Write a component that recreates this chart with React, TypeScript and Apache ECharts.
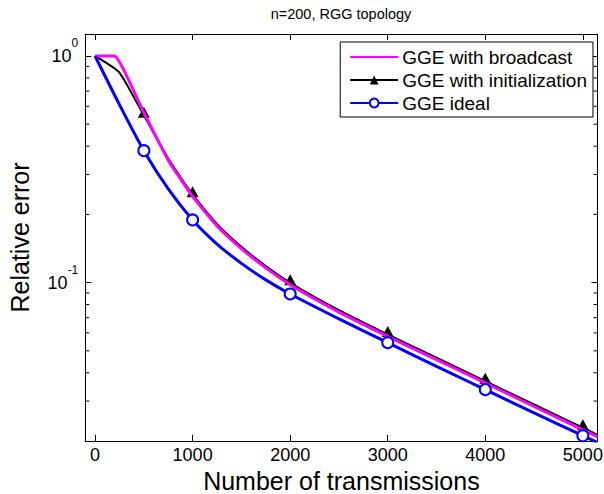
import React, { useEffect, useRef } from 'react';
import * as echarts from 'echarts';

const titleText = 'n=200, RGG topology';
const xName = 'Number of transmissions';
const yName = 'Relative error';
const seriesNames = ['GGE with broadcast', 'GGE with initialization', 'GGE ideal'];

const xBroadcast = [0, 190, 200, 500, 750, 1000, 1250, 1500, 1750, 2000, 2500, 3000, 3500, 4000, 4500, 5000, 5150];
const yBroadcast = [1, 1, 1, 0.562, 0.347, 0.2399, 0.1778, 0.1413, 0.1161, 0.0979, 0.0741, 0.0579, 0.0457, 0.0361, 0.0284, 0.0224, 0.0209];

const xInit = [0, 250, 500, 750, 1000, 1250, 1500, 1750, 2000, 2500, 3000, 3500, 4000, 4500, 5000, 5150];
const yInit = [1, 0.845, 0.547, 0.353, 0.2443, 0.1811, 0.1439, 0.1183, 0.0998, 0.0755, 0.059, 0.0466, 0.0367, 0.029, 0.0229, 0.0213];

const xIdeal = [0, 250, 500, 750, 1000, 1250, 1500, 1750, 2000, 2500, 3000, 3500, 4000, 4500, 5000, 5150];
const yIdeal = [1, 0.61, 0.382, 0.259, 0.189, 0.148, 0.1216, 0.1028, 0.0891, 0.0692, 0.0543, 0.0427, 0.0337, 0.0266, 0.0211, 0.0197];

const markerX = [500, 1000, 2000, 3000, 4000, 5000];
const yMinorTicks = [0.03, 0.04, 0.05, 0.06, 0.07, 0.08, 0.09, 0.2, 0.3, 0.4, 0.5, 0.6, 0.7, 0.8, 0.9];

const X_MIN = -100;
const X_MAX = 5150;
const Y_MIN = 0.02;
const Y_MAX = 1.25;

const FONT = 'Liberation Sans, Arial, Helvetica, sans-serif';

export default function App() {
  const ref = useRef<HTMLDivElement>(null);
  useEffect(() => {
    if (!ref.current) return;
    const chart = echarts.init(ref.current, undefined, { renderer: 'svg' });
    const mk = (xs: number[], ys: number[], sym: string) =>
      xs.map((x, i) => ({ value: [x, ys[i]], symbol: markerX.includes(x) ? sym : 'none' }));

    const xAxisCommon = {
      type: 'value',
      min: X_MIN,
      max: X_MAX,
      axisLine: { show: true, onZero: false, lineStyle: { color: '#000', width: 1 } },
      axisTick: { show: true, inside: true, length: 6, lineStyle: { color: '#000', width: 1 } },
      splitLine: { show: false },
    };
    const yAxisCommon = {
      type: 'log',
      logBase: 10,
      min: Y_MIN,
      max: Y_MAX,
      axisLine: { show: true, onZero: false, lineStyle: { color: '#000', width: 1 } },
      axisTick: { show: true, inside: true, length: 6, lineStyle: { color: '#000', width: 1 } },
      splitLine: { show: false },
    };

    chart.setOption({
      animation: false,
      backgroundColor: '#fff',
      textStyle: { fontFamily: FONT },
      graphic: [
        {
          type: 'text',
          x: 341,
          y: 14,
          style: {
            text: titleText,
            fontFamily: FONT,
            fontSize: 14.5,
            fill: '#000',
            textAlign: 'center',
            textVerticalAlign: 'middle',
          },
        },
      ],
      grid: { left: 85.3, right: 6.5, top: 34, bottom: 53, containLabel: false, outerBoundsMode: 'none' },
      legend: {
        data: [
          {
            name: seriesNames[0],
            itemStyle: { color: 'rgba(0,0,0,0)', borderColor: 'rgba(0,0,0,0)', borderWidth: 0, opacity: 0 },
          },
          { name: seriesNames[1] },
          { name: seriesNames[2] },
        ],
        orient: 'vertical',
        right: 11,
        top: 42,
        padding: [5, 6, 4, 9],
        itemGap: 3,
        itemWidth: 48,
        itemHeight: 11,
        backgroundColor: '#fff',
        borderColor: '#000',
        borderWidth: 1,
        borderRadius: 0,
        align: 'left',
        textStyle: { fontFamily: FONT, fontSize: 19, color: '#000', lineHeight: 20, padding: [0, 0, 0, -1] },
      },
      xAxis: [
        {
          ...xAxisCommon,
          position: 'bottom',
          name: xName,
          nameLocation: 'middle',
          nameGap: 25,
          nameTextStyle: { fontFamily: FONT, fontSize: 25, color: '#000' },
          axisLabel: {
            show: true,
            showMinLabel: false,
            showMaxLabel: false,
            margin: 5,
            color: '#000',
            fontFamily: FONT,
            fontSize: 18,
            formatter: (v: number) => String(v),
          },
        },
        {
          ...xAxisCommon,
          position: 'top',
          axisLabel: { show: false },
        },
      ],
      yAxis: [
        {
          ...yAxisCommon,
          position: 'left',
          name: yName,
          nameLocation: 'middle',
          nameGap: 53,
          nameTextStyle: { fontFamily: FONT, fontSize: 25, color: '#000' },
          axisLabel: {
            show: true,
            showMinLabel: false,
            showMaxLabel: false,
            margin: 7,
            color: '#000',
            formatter: (v: number) => {
              const e = Math.round(Math.log10(v));
              return `{b|10}{s|${e}}`;
            },
            rich: {
              b: { fontFamily: FONT, fontSize: 18, color: '#000', padding: [10, 0, 10, 0] },
              s: { fontFamily: FONT, fontSize: 12, color: '#000', verticalAlign: 'top' },
            },
          },
        },
        {
          ...yAxisCommon,
          position: 'right',
          axisLabel: { show: false },
        },
      ],
      series: [
        {
          type: 'custom',
          name: 'minorTicks',
          silent: true,
          xAxisIndex: 0,
          yAxisIndex: 0,
          data: yMinorTicks.map((v) => [0, v]),
          encode: { x: 0, y: 1 },
          renderItem: (params: any, api: any) => {
            const pt = api.coord([0, api.value(1)]);
            const cs = params.coordSys;
            const st = { stroke: '#000', lineWidth: 1 };
            return {
              type: 'group',
              children: [
                { type: 'line', shape: { x1: cs.x, y1: pt[1], x2: cs.x + 4, y2: pt[1] }, style: st },
                { type: 'line', shape: { x1: cs.x + cs.width, y1: pt[1], x2: cs.x + cs.width - 4, y2: pt[1] }, style: st },
              ],
            };
          },
          z: 1,
        },
        {
          name: seriesNames[1],
          type: 'line',
          smooth: 0.15,
          data: mk(xInit, yInit, 'triangle'),
          symbol: 'triangle',
          symbolSize: [12, 11],
          symbolOffset: [0, -3],
          showAllSymbol: true,
          itemStyle: { color: '#000', borderWidth: 0 },
          lineStyle: { color: '#000', width: 2 },
          z: 2,
        },
        {
          name: seriesNames[0],
          type: 'line',
          smooth: 0.15,
          data: mk(xBroadcast, yBroadcast, 'none'),
          symbol: 'circle',
          showAllSymbol: true,
          itemStyle: { color: '#ff00ff' },
          lineStyle: { color: '#ff00ff', width: 3 },
          z: 3,
        },
        {
          name: seriesNames[2],
          type: 'line',
          smooth: 0.3,
          data: mk(xIdeal, yIdeal, 'emptyCircle'),
          symbol: 'emptyCircle',
          symbolSize: 11,
          showAllSymbol: true,
          itemStyle: { color: '#0000ff', borderColor: '#0000ff', borderWidth: 2 },
          lineStyle: { color: '#0000ff', width: 3 },
          z: 4,
        },
      ],
    });
    return () => chart.dispose();
  }, []);
  return (
    <div
      ref={ref}
      style={{ position: 'fixed', left: 0, top: 0, width: 604, height: 494, background: '#fff' }}
    />
  );
}
